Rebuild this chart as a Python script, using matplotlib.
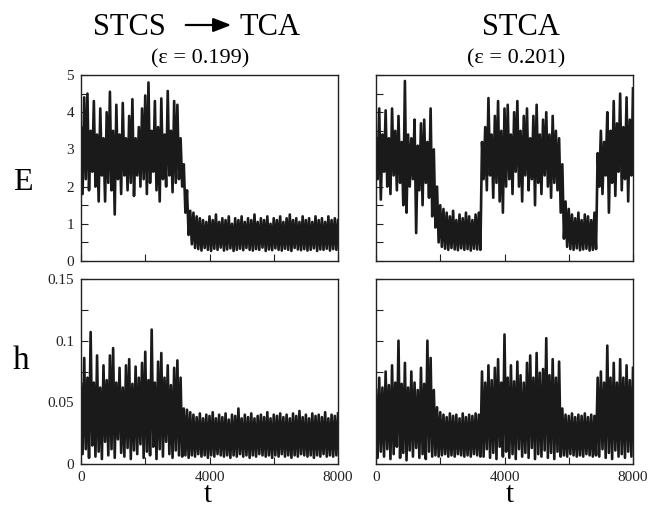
#!/usr/bin/env python3
"""
E(t) and h(t) for the STCS -> TCA transition and STCA intermittency.
"""

import matplotlib
matplotlib.use('Agg')
import matplotlib.pyplot as plt
from matplotlib.patches import FancyArrowPatch
from matplotlib.ticker import MultipleLocator, NullFormatter, FuncFormatter
import numpy as np

plt.rcParams['font.family'] = ['Liberation Serif', 'DejaVu Serif']

# time grids: upper excursions on the hundreds, lower excursions half-way in between
t_hi = np.arange(0, 8001, 100)
t_lo = np.arange(50, 8000, 100)

# --- E, eps = 0.199 (left top) ---
E1_hi = [3.6, 4.4, 4.5, 3.5, 4.3, 3.4, 4.1, 3.3, 4.0, 4.55,
         3.5, 4.2, 3.4, 4.25, 3.3, 3.9, 4.35, 3.3, 3.6, 4.1,
         4.45, 4.8, 3.5, 4.3, 3.6, 4.37, 3.4, 4.57, 3.5, 4.3,
         4.2, 3.3, 2.6, 1.9, 1.35, 1.3, 1.2,
         1.15, 1.1, 1.05, 1.2, 1.1, 1.25, 1.05, 1.15, 1.1, 1.2,
         1.0, 1.15, 1.1, 1.2, 1.05, 1.15, 1.1, 1.25, 1.05, 1.15,
         1.1, 1.2, 1.0, 1.15, 1.1, 1.2, 1.05, 1.15, 1.25, 1.1,
         1.15, 1.05, 1.2, 1.1, 1.15, 1.05, 1.2, 1.1, 1.15, 1.05,
         1.2, 1.1, 1.15, 1.1]
E1_lo = [1.8, 2.2, 1.9, 2.4, 2.0, 1.6, 2.3, 1.6, 2.1, 1.9,
         1.25, 2.2, 1.8, 2.3, 1.9, 2.1, 1.75, 2.3, 2.0, 2.2,
         1.8, 2.1, 2.4, 1.9, 1.6, 2.2, 2.0, 2.3, 1.85, 2.1,
         2.2, 2.0, 1.3, 0.7, 0.45, 0.35,
         0.32, 0.28, 0.35, 0.3, 0.27, 0.33, 0.3, 0.36, 0.28, 0.31,
         0.34, 0.27, 0.3, 0.33, 0.29, 0.35, 0.3, 0.28, 0.32, 0.3,
         0.36, 0.27, 0.31, 0.29, 0.34, 0.3, 0.28, 0.33, 0.3, 0.27,
         0.35, 0.31, 0.29, 0.32, 0.28, 0.3, 0.34, 0.27, 0.31, 0.3,
         0.33, 0.28, 0.32, 0.3]

# --- E, eps = 0.201 (right top) ---
E2_hi = [3.3, 4.1, 3.4, 4.05, 3.3, 4.1, 3.5, 3.9, 3.2, 4.84,
         3.4, 3.3, 3.8, 3.1, 3.7, 3.8, 3.2, 4.1,
         3.0, 2.0, 1.5,
         1.4, 1.3, 1.2, 1.35, 1.1, 1.25, 1.15, 1.3, 1.2, 1.1, 1.25, 1.3,
         3.2, 3.6, 4.38, 3.4, 3.9, 4.3, 3.5, 4.1, 4.2, 3.4,
         4.0, 4.3, 3.5, 3.9, 4.1, 3.3, 3.9, 4.2, 3.4, 3.8,
         4.0, 3.4, 3.9, 3.5, 3.3,
         2.6, 1.6, 1.4,
         1.25, 1.15, 1.3, 1.1, 1.25, 1.2, 1.1, 1.3,
         2.9, 3.5, 3.2, 4.0, 3.5, 4.3, 3.7, 4.5, 3.6, 4.4, 3.8, 4.64]
E2_lo = [2.2, 1.65, 2.4, 2.0, 1.8, 2.3, 1.9, 2.1, 1.5, 1.3,
         2.0, 2.2, 0.75, 1.9, 1.5, 2.1, 1.7, 1.2,
         0.9, 0.5, 0.38,
         0.33, 0.3, 0.35, 0.31, 0.29, 0.34, 0.3, 0.32, 0.28, 0.33, 0.31, 0.3,
         2.2, 1.9, 2.3, 1.7, 2.1, 1.6, 1.3, 2.0, 2.2, 1.8,
         2.4, 2.0, 1.6, 2.3, 1.9, 2.2, 1.5, 2.1, 1.8, 2.3,
         2.0, 1.7, 2.1, 1.9,
         1.3, 0.6, 0.38,
         0.32, 0.3, 0.34, 0.29, 0.31, 0.33, 0.28, 0.3, 0.32,
         2.0, 1.8, 2.3, 1.3, 2.1, 1.75, 2.4, 1.9, 2.2, 1.6, 2.3]

# --- h, eps = 0.199 (left bottom) ---
h1_hi = [0.065, 0.086, 0.07, 0.107, 0.066, 0.088, 0.062, 0.08, 0.068, 0.088,
         0.094, 0.066, 0.078, 0.062, 0.08, 0.085, 0.065, 0.079, 0.07, 0.082,
         0.091, 0.068, 0.109, 0.066, 0.083, 0.09, 0.07, 0.08, 0.064, 0.078,
         0.084, 0.07,
         0.045, 0.044, 0.042,
         0.04, 0.038, 0.041, 0.037, 0.04, 0.039, 0.042, 0.037, 0.04, 0.038,
         0.041, 0.036, 0.04, 0.039, 0.045, 0.037, 0.04, 0.038, 0.041, 0.037,
         0.039, 0.04, 0.038, 0.042, 0.037, 0.04, 0.039, 0.041, 0.038, 0.04,
         0.037, 0.041, 0.039, 0.043, 0.038, 0.04, 0.037, 0.041, 0.039, 0.04,
         0.038, 0.042, 0.037, 0.04, 0.039, 0.041]
h1_lo = [0.008, 0.012, 0.005, 0.015, 0.006, 0.01, 0.004, 0.018, 0.007, 0.012,
         0.005, 0.02, 0.009, 0.006, 0.013, 0.004, 0.011, 0.008, 0.016, 0.005,
         0.01, 0.007, 0.014, 0.004, 0.012, 0.006, 0.018, 0.008, 0.005, 0.011,
         0.007,
         0.006, 0.007, 0.005, 0.007, 0.006, 0.008, 0.006, 0.007, 0.005, 0.007,
         0.006, 0.008, 0.007, 0.006, 0.007, 0.005, 0.007, 0.006, 0.008, 0.006,
         0.007, 0.005, 0.007, 0.006, 0.008, 0.007, 0.006, 0.007, 0.005, 0.007,
         0.006, 0.008, 0.006, 0.007, 0.005, 0.007, 0.006, 0.008, 0.007, 0.006,
         0.007, 0.005, 0.007, 0.006, 0.008, 0.006, 0.007, 0.006, 0.007]

# --- h, eps = 0.201 (right bottom) ---
h2_hi = [0.06, 0.07, 0.062, 0.075, 0.064, 0.08, 0.066, 0.1, 0.065, 0.082,
         0.062, 0.075, 0.066, 0.06, 0.078, 0.065, 0.1, 0.086,
         0.06, 0.046,
         0.042, 0.04, 0.038, 0.041, 0.039, 0.04, 0.037, 0.041, 0.038, 0.04,
         0.039, 0.041, 0.04,
         0.075, 0.066, 0.08, 0.068, 0.078, 0.085, 0.066, 0.105, 0.07, 0.08,
         0.067, 0.083, 0.072, 0.066, 0.082, 0.088, 0.07, 0.09, 0.074, 0.077,
         0.102, 0.072, 0.085, 0.07, 0.083,
         0.045,
         0.04, 0.039, 0.041, 0.038, 0.04, 0.039, 0.041, 0.038, 0.04, 0.039,
         0.07, 0.075, 0.066, 0.096, 0.07, 0.082, 0.066, 0.085, 0.07, 0.08,
         0.068, 0.078]
h2_lo = [0.005, 0.01, 0.006, 0.012, 0.004, 0.008, 0.014, 0.005, 0.009, 0.003,
         0.011, 0.006, 0.013, 0.005, 0.008, 0.004, 0.01, 0.006,
         0.007, 0.006, 0.007, 0.008, 0.006, 0.007, 0.006, 0.008, 0.007, 0.006,
         0.007, 0.006, 0.008, 0.007, 0.006,
         0.006, 0.012, 0.005, 0.009, 0.004, 0.014, 0.006, 0.01, 0.005, 0.008,
         0.004, 0.012, 0.006, 0.009, 0.005, 0.013, 0.004, 0.008, 0.006, 0.011,
         0.005, 0.009, 0.004, 0.01, 0.006,
         0.007, 0.006, 0.008, 0.007, 0.006, 0.007, 0.006, 0.008, 0.007, 0.006,
         0.007,
         0.006, 0.012, 0.005, 0.009, 0.004, 0.011, 0.006, 0.008, 0.005, 0.01,
         0.006]


def zigzag(hi, lo):
    # interleave upper and lower excursions in time order
    t = np.empty(len(t_hi) + len(t_lo))
    y = np.empty_like(t)
    t[0::2], t[1::2] = t_hi, t_lo
    y[0::2], y[1::2] = hi, lo
    return t, y


W, H = 649, 508
fig = plt.figure(figsize=(W / 100, H / 100), dpi=100)

def px_axes(left, top, right, bottom):
    return fig.add_axes([left / W, 1 - bottom / H, (right - left) / W, (bottom - top) / H])

ax_E1 = px_axes(81, 75, 338, 261)
ax_E2 = px_axes(376, 75, 633, 261)
ax_h1 = px_axes(81, 279, 338, 464)
ax_h2 = px_axes(376, 279, 633, 464)

panels = [(ax_E1, E1_hi, E1_lo, 'E'), (ax_E2, E2_hi, E2_lo, 'E'),
          (ax_h1, h1_hi, h1_lo, 'h'), (ax_h2, h2_hi, h2_lo, 'h')]

fmt = FuncFormatter(lambda v, p: '%g' % round(v, 4))

for ax, hi, lo, kind in panels:
    t, y = zigzag(hi, lo)
    ax.plot(t, y, color='#1a1a1a', lw=1.9)
    ax.set_xlim(0, 8000)
    if kind == 'E':
        ax.set_ylim(0, 5)
        ax.yaxis.set_major_locator(MultipleLocator(1))
        ax.yaxis.set_minor_locator(MultipleLocator(0.5))
    else:
        ax.set_ylim(0, 0.15)
        ax.yaxis.set_major_locator(MultipleLocator(0.05))
        ax.yaxis.set_minor_locator(MultipleLocator(0.025))
    ax.xaxis.set_major_locator(MultipleLocator(4000))
    ax.xaxis.set_minor_locator(MultipleLocator(2000))
    ax.xaxis.set_major_formatter(fmt)
    ax.yaxis.set_major_formatter(fmt)
    ax.tick_params(which='both', direction='in', length=5, width=0.8,
                   top=False, right=False, labelsize=11, pad=5, colors='#222')
    for s in ax.spines.values():
        s.set_linewidth(1.0)
        s.set_color('#222')

# only outer panels carry numbers
ax_E1.xaxis.set_major_formatter(NullFormatter())
ax_E2.xaxis.set_major_formatter(NullFormatter())
ax_E2.yaxis.set_major_formatter(NullFormatter())
ax_h2.yaxis.set_major_formatter(NullFormatter())

# headings
fig.text(166 / W, 1 - 35 / H, 'STCS', ha='right', va='baseline', fontsize=22)
fig.text(239 / W, 1 - 35 / H, 'TCA', ha='left', va='baseline', fontsize=22)
fig.patches.append(FancyArrowPatch(
    (183 / W, 1 - 25 / H), (234 / W, 1 - 25 / H), transform=fig.transFigure,
    arrowstyle='-|>,head_length=0.9,head_width=0.35', mutation_scale=12,
    lw=1.6, color='black'))
fig.text(200 / W, 1 - 63 / H, '(\u03b5 = 0.199)', ha='center', va='baseline', fontsize=16)
fig.text(521 / W, 1 - 35 / H, 'STCA', ha='center', va='baseline', fontsize=22)
fig.text(516 / W, 1 - 63 / H, '(\u03b5 = 0.201)', ha='center', va='baseline', fontsize=16)

fig.text(23 / W, 1 - 183 / H, 'E', ha='center', va='center', fontsize=23)
fig.text(21 / W, 1 - 361 / H, 'h', ha='center', va='center', fontsize=24)
fig.text(208 / W, 1 - 507.5 / H, 't', ha='center', va='bottom', fontsize=21)
fig.text(510 / W, 1 - 507.5 / H, 't', ha='center', va='bottom', fontsize=21)

fig.savefig('out.png', dpi=100, facecolor='white')
plt.close(fig)
